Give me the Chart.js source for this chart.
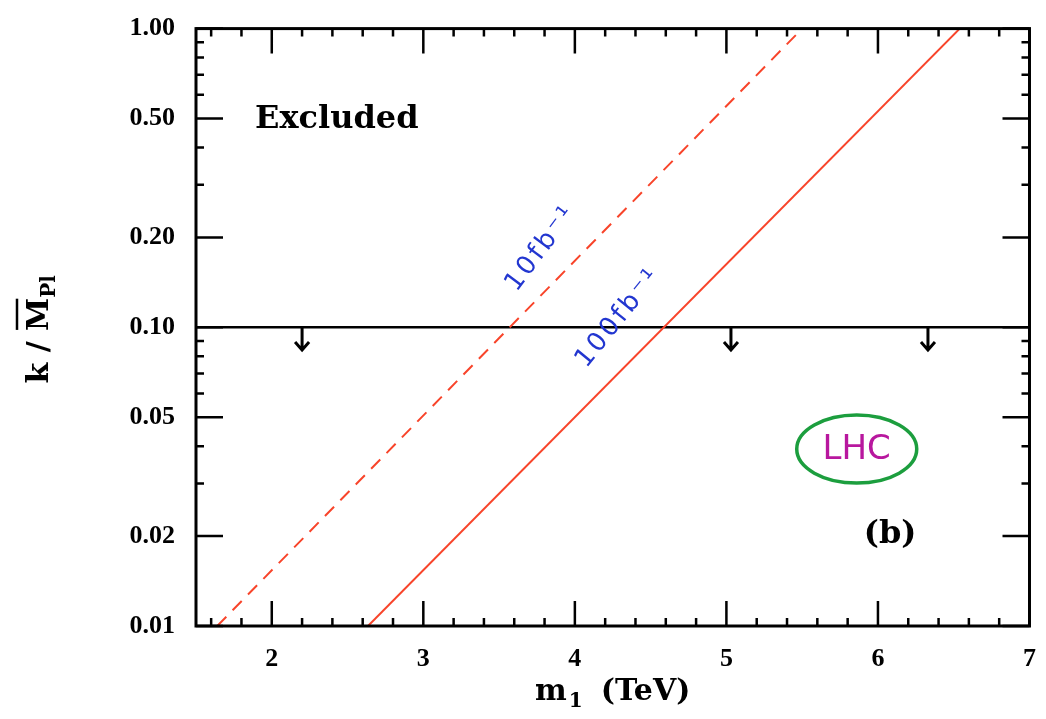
<!DOCTYPE html>
<html>
<head>
<meta charset="utf-8">
<script src="https://cdn.jsdelivr.net/npm/chart.js@4.4.1/dist/chart.umd.min.js"></script>
<style>
  html, body { margin: 0; padding: 0; background: #fff; }
  #chart { display: block; }
</style>
</head>
<body>
<canvas id="chart" width="1046" height="719"></canvas>
<script>
// reach in k/Mpl vs m1 at the LHC, both curves are straight on the log scale
var dashedX = [1.64, 5.50];   // 10 fb^-1
var dashedY = [0.01, 1.00];
var solidX = [2.635, 6.54];   // 100 fb^-1
var solidY = [0.01, 1.00];
var limitX = [1.5, 7.0];      // theory bound k/Mpl < 0.1
var limitY = [0.1, 0.1];
var arrowX = [2.2, 5.03, 6.33];
var arrowFrom = 0.1;
var arrowTo = 0.084;

var xTickLabels = [2, 3, 4, 5, 6, 7];
var xMinorTicks = [1.6, 1.8, 2.2, 2.4, 2.6, 2.8, 3.2, 3.4, 3.6, 3.8, 4.2, 4.4, 4.6, 4.8,
                   5.2, 5.4, 5.6, 5.8, 6.2, 6.4, 6.6, 6.8];
var yTickLabels = [0.01, 0.02, 0.05, 0.10, 0.20, 0.50, 1.00];
var yMinorTicks = [0.03, 0.04, 0.06, 0.07, 0.08, 0.09, 0.3, 0.4, 0.6, 0.7, 0.8, 0.9];

function pts(xs, ys) {
    var out = [];
    for (var i = 0; i < xs.length; i++) {
        out.push({x: xs[i], y: ys[i]});
    }
    return out;
}

var RED = '#f8442a';
var SERIF = '"DejaVu Serif", serif';
var HAND = '"DejaVu Sans", sans-serif';

var frame = {
    id: 'frame',
    afterDatasetsDraw: function (chart) {
        var ctx = chart.ctx, a = chart.chartArea;
        var xs = chart.scales.x, ys = chart.scales.y;
        ctx.save();
        ctx.strokeStyle = '#000';
        ctx.fillStyle = '#000';

        // ticks point inward on all four sides
        ctx.lineWidth = 2.5;
        ctx.beginPath();
        var xTick = function (v, len) {
            var px = xs.getPixelForValue(v);
            ctx.moveTo(px, a.bottom); ctx.lineTo(px, a.bottom - len);
            ctx.moveTo(px, a.top); ctx.lineTo(px, a.top + len);
        };
        var yTick = function (v, len) {
            var py = ys.getPixelForValue(v);
            ctx.moveTo(a.left, py); ctx.lineTo(a.left + len, py);
            ctx.moveTo(a.right, py); ctx.lineTo(a.right - len, py);
        };
        xTickLabels.forEach(function (v) { xTick(v, 25); });
        xMinorTicks.forEach(function (v) { xTick(v, 8); });
        yTickLabels.forEach(function (v) { yTick(v, 27); });
        yMinorTicks.forEach(function (v) { yTick(v, 8); });
        ctx.stroke();

        ctx.lineWidth = 3;
        ctx.strokeRect(a.left, a.top, a.width, a.height);

        // arrows hanging off the 0.1 line
        ctx.lineWidth = 3;
        arrowX.forEach(function (v) {
            var px = xs.getPixelForValue(v);
            var y0 = ys.getPixelForValue(arrowFrom);
            var y1 = ys.getPixelForValue(arrowTo);
            ctx.beginPath();
            ctx.moveTo(px, y0); ctx.lineTo(px, y1);
            ctx.moveTo(px - 7, y1 - 8); ctx.lineTo(px, y1); ctx.lineTo(px + 7, y1 - 8);
            ctx.stroke();
        });

        // labels inside the frame
        ctx.textBaseline = 'middle';
        ctx.textAlign = 'left';
        ctx.font = 'bold 32px ' + SERIF;
        ctx.fillText('Excluded', xs.getPixelForValue(1.89), ys.getPixelForValue(0.494));

        ctx.textAlign = 'center';
        ctx.font = 'bold 32px ' + SERIF;
        ctx.fillText('(b)', xs.getPixelForValue(6.08), ys.getPixelForValue(0.0202));

        var lx = xs.getPixelForValue(5.86), ly = ys.getPixelForValue(0.0391);
        ctx.strokeStyle = '#1c9e3e';
        ctx.lineWidth = 3.5;
        ctx.beginPath();
        ctx.ellipse(lx, ly, 60, 34, 0, 0, Math.PI * 2);
        ctx.stroke();
        ctx.fillStyle = '#b8179e';
        ctx.font = '34px ' + HAND;
        ctx.fillText('LHC', lx, ly + 1);

        ctx.fillStyle = '#2236d0';
        ctx.font = '26px ' + HAND;
        ctx.letterSpacing = '3px';
        var hand = function (txt, x, y, ang) {
            ctx.save();
            ctx.translate(xs.getPixelForValue(x), ys.getPixelForValue(y));
            ctx.rotate(ang * Math.PI / 180);
            ctx.fillText(txt, 0, 0);
            ctx.restore();
        };
        hand('10fb\u207B\u00B9', 3.78, 0.184, -53);
        hand('100fb\u207B\u00B9', 4.29, 0.1076, -51);
        ctx.letterSpacing = '0px';

        // axis titles
        ctx.fillStyle = '#000';
        ctx.strokeStyle = '#000';
        ctx.textAlign = 'left';
        ctx.textBaseline = 'alphabetic';
        var big = 'bold 30px ' + SERIF, small = 'bold 20px ' + SERIF;

        ctx.font = big;
        var wm = ctx.measureText('m').width, wt = ctx.measureText('(TeV)').width;
        ctx.font = small;
        var w1 = ctx.measureText('1').width;
        var gap = 20;
        var x0 = (a.left + a.right) / 2 - (wm + w1 + gap + wt) / 2;
        var by = 700;
        ctx.font = big;
        ctx.fillText('m', x0, by);
        ctx.font = small;
        ctx.fillText('1', x0 + wm + 2, by + 7);
        ctx.font = big;
        ctx.fillText('(TeV)', x0 + wm + w1 + gap, by);

        ctx.save();
        ctx.translate(48, (a.top + a.bottom) / 2 + 2);
        ctx.rotate(-Math.PI / 2);
        ctx.font = big;
        var wk = ctx.measureText('k / ').width, wM = ctx.measureText('M').width;
        ctx.font = small;
        var wp = ctx.measureText('Pl').width;
        var s0 = -(wk + wM + wp) / 2;
        ctx.font = big;
        ctx.fillText('k / ', s0, 0);
        ctx.fillText('M', s0 + wk, 0);
        ctx.lineWidth = 2.5;
        ctx.beginPath();
        ctx.moveTo(s0 + wk + 1, -31); ctx.lineTo(s0 + wk + wM - 1, -31);
        ctx.stroke();
        ctx.font = small;
        ctx.fillText('Pl', s0 + wk + wM, 7);
        ctx.restore();

        ctx.restore();
    }
};

new Chart(document.getElementById('chart'), {
    type: 'scatter',
    data: {
        datasets: [
            {
                label: '10 fb-1',
                data: pts(dashedX, dashedY),
                showLine: true,
                borderColor: RED,
                borderWidth: 2,
                borderDash: [13, 9],
                pointRadius: 0
            },
            {
                label: '100 fb-1',
                data: pts(solidX, solidY),
                showLine: true,
                borderColor: RED,
                borderWidth: 2,
                pointRadius: 0
            },
            {
                label: 'k/Mpl bound',
                data: pts(limitX, limitY),
                showLine: true,
                borderColor: '#000',
                borderWidth: 2.5,
                pointRadius: 0
            }
        ]
    },
    options: {
        responsive: false,
        animation: false,
        devicePixelRatio: 1,
        layout: {padding: {top: 22, right: 13, left: 0, bottom: 0}},
        plugins: {legend: {display: false}, tooltip: {enabled: false}},
        scales: {
            x: {
                type: 'linear',
                min: 1.5,
                max: 7,
                grid: {display: false},
                border: {display: false},
                afterBuildTicks: function (scale) {
                    scale.ticks = xTickLabels.map(function (v) { return {value: v}; });
                },
                afterFit: function (scale) { scale.height = 93; },
                ticks: {
                    color: '#000',
                    padding: 10,
                    maxRotation: 0,
                    autoSkip: false,
                    font: {family: 'Liberation Serif', size: 26, weight: 'bold'},
                    callback: function (v) { return String(v); }
                }
            },
            y: {
                type: 'logarithmic',
                min: 0.01,
                max: 1,
                grid: {display: false},
                border: {display: false},
                afterBuildTicks: function (scale) {
                    scale.ticks = yTickLabels.map(function (v) { return {value: v}; });
                },
                afterFit: function (scale) { scale.width = 196; },
                ticks: {
                    color: '#000',
                    padding: 13,
                    autoSkip: false,
                    font: {family: 'Liberation Serif', size: 26, weight: 'bold'},
                    callback: function (v) { return Number(v).toFixed(2); }
                }
            }
        }
    },
    plugins: [frame]
});
</script>
</body>
</html>
